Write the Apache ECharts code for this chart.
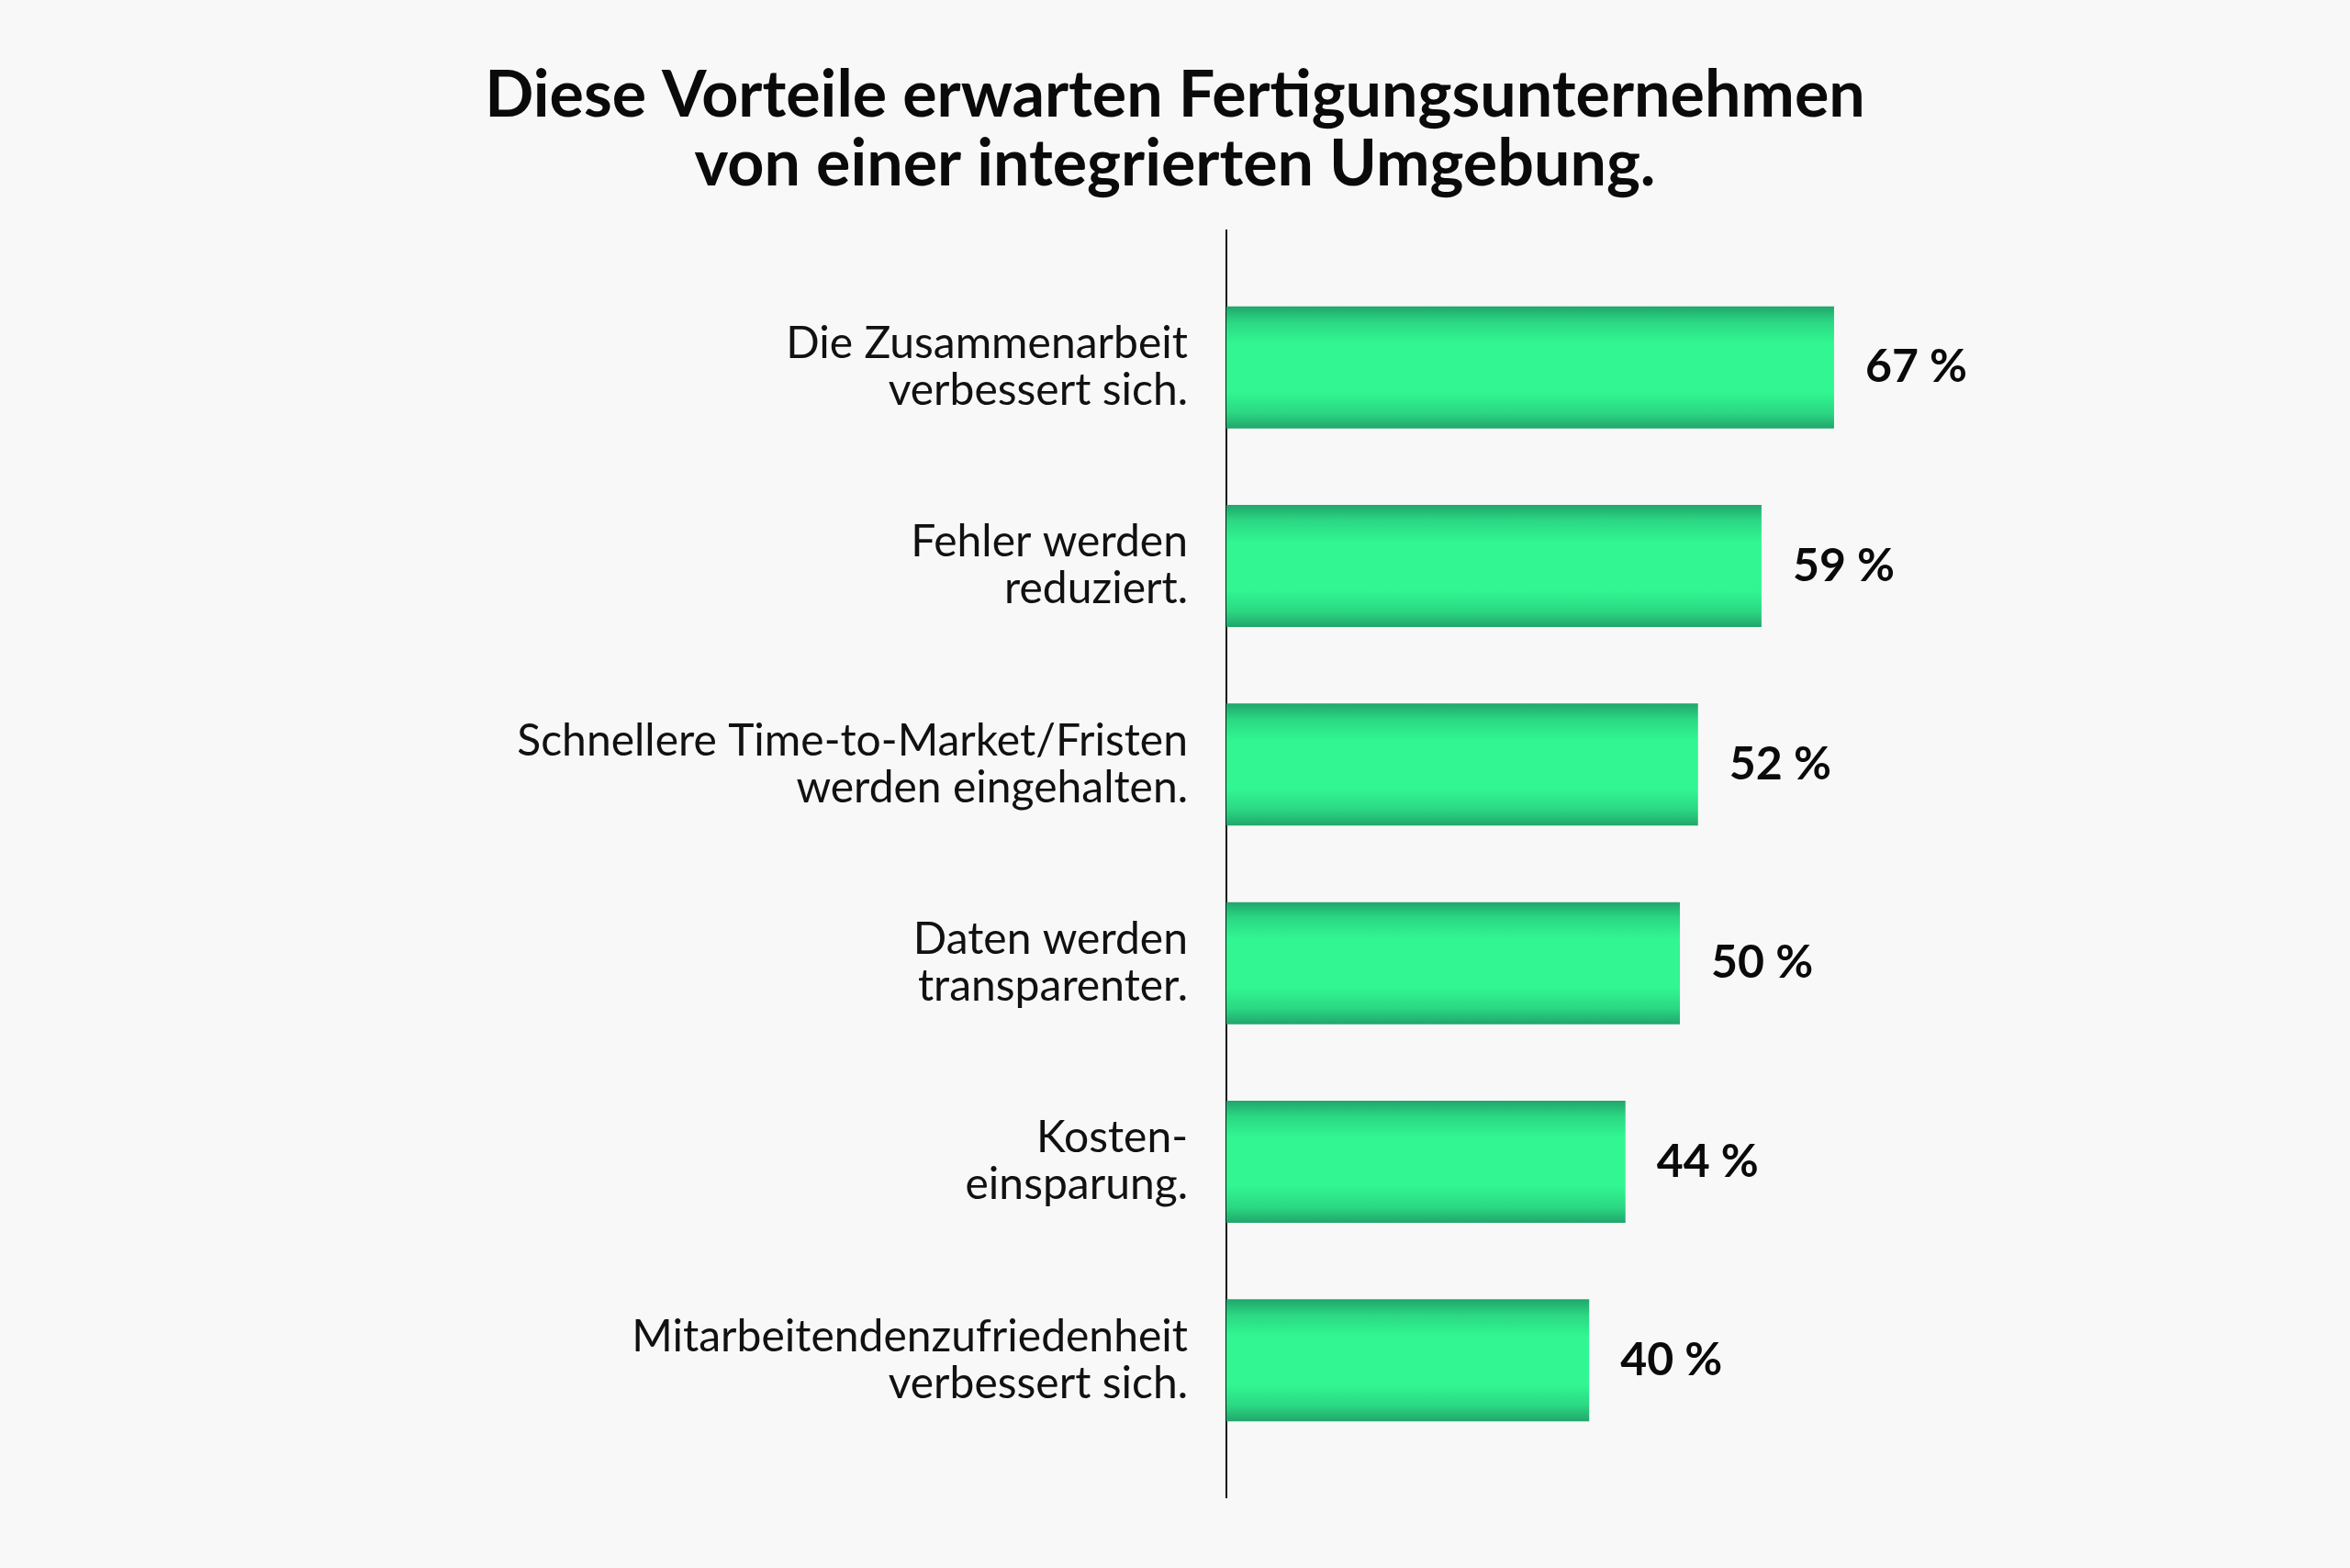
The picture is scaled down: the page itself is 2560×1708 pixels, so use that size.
<!DOCTYPE html>
<html lang="de">
<head>
    <meta charset="UTF-8">
    <title>Vorteile integrierte Umgebung</title>
    <script src="https://cdn.jsdelivr.net/npm/echarts@6/dist/echarts.min.js"></script>
    <style>
        html, body {
            margin: 0;
            padding: 0;
            background: #f8f8f8;
        }
        #main {
            width: 2560px;
            height: 1708px;
        }
    </style>
</head>
<body>
<div id="main"></div>
<script type="application/javascript">
    // Kategorien (von oben nach unten) und Werte in Prozent
    var categories = [
        'Die Zusammenarbeit\nverbessert sich.',
        'Fehler werden\nreduziert.',
        'Schnellere Time-to-Market/Fristen\nwerden eingehalten.',
        'Daten werden\ntransparenter.',
        'Kosten-\neinsparung.',
        'Mitarbeitendenzufriedenheit\nverbessert sich.'
    ];
    var values = [67, 59, 52, 50, 44, 40];
    var titleText = 'Diese Vorteile erwarten Fertigungsunternehmen\nvon einer integrierten Umgebung.';

    var myChart = echarts.init(document.getElementById('main'));

    // Balken mit dunklerem Rand oben/unten
    var barColor = new echarts.graphic.LinearGradient(0, 0, 0, 1, [
        {offset: 0, color: '#21a66b'},
        {offset: 0.13, color: '#2bd883'},
        {offset: 0.3, color: '#31f691'},
        {offset: 0.7, color: '#31f691'},
        {offset: 0.87, color: '#2bd883'},
        {offset: 1, color: '#21a66b'}
    ]);

    var option = {
        backgroundColor: '#f8f8f8',
        title: {
            text: titleText,
            left: 'center',
            top: 62,
            textStyle: {
                fontFamily: 'Lato',
                fontWeight: 'bold',
                fontSize: 70,
                lineHeight: 75,
                color: '#0a0a0a'
            }
        },
        grid: {
            left: 1336,
            right: 236,
            top: 292,
            height: 1298,
            containLabel: false
        },
        xAxis: {
            type: 'value',
            min: 0,
            max: 100,
            show: false
        },
        yAxis: {
            type: 'category',
            inverse: true,
            data: categories,
            axisLine: {show: false},
            axisTick: {show: false},
            splitLine: {show: false},
            axisLabel: {
                fontFamily: 'Lato',
                fontSize: 48,
                lineHeight: 51,
                color: '#111111',
                margin: 42,
                align: 'right'
            }
        },
        series: [
            {
                type: 'bar',
                data: values,
                barWidth: 133,
                itemStyle: {color: barColor},
                label: {
                    show: true,
                    position: 'right',
                    distance: 34,
                    formatter: '{c} %',
                    fontFamily: 'Lato',
                    fontWeight: 'bold',
                    fontSize: 50,
                    color: '#0a0a0a'
                },
                silent: true
            }
        ]
    };

    myChart.setOption(option);

    // senkrechte Achsenlinie, etwas über den Plotbereich hinaus
    var x0 = myChart.convertToPixel({xAxisIndex: 0}, 0);
    myChart.setOption({
        graphic: [{
            type: 'line',
            shape: {x1: x0, y1: 250, x2: x0, y2: 1632},
            style: {stroke: '#111111', lineWidth: 2}
        }]
    });
</script>
</body>
</html>
